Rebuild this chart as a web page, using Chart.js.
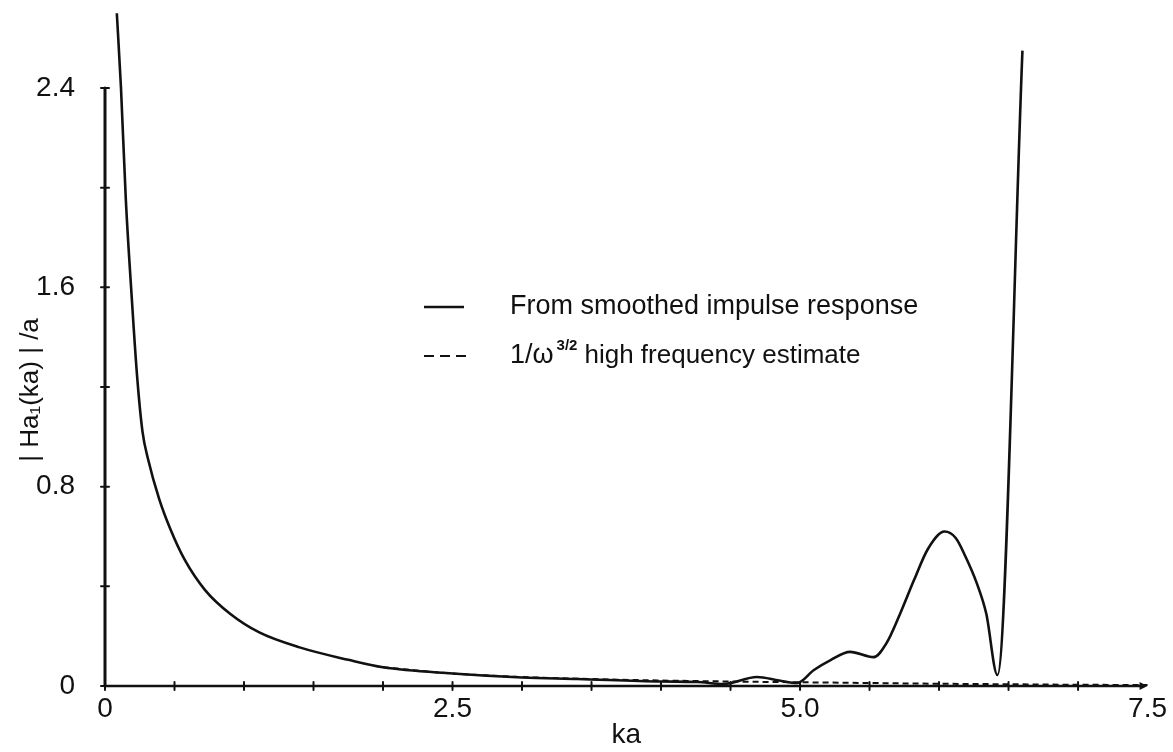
<!DOCTYPE html>
<html>
<head>
<meta charset="utf-8">
<title>|Ha1(ka)|/a</title>
<script src="https://cdn.jsdelivr.net/npm/chart.js@4.4.1/dist/chart.umd.min.js"></script>
<style>
  html, body { margin: 0; padding: 0; background: #fff; }
  #wrap { width: 1173px; height: 752px; }
</style>
</head>
<body>
<div id="wrap"><canvas id="haChart" width="1173" height="752"></canvas></div>
<script>
// |Ha1(ka)|/a from the smoothed impulse response
const kaSmoothed = [0.085, 0.115, 0.15, 0.19, 0.23, 0.27, 0.31, 0.39, 0.47, 0.57, 0.72, 0.90, 1.11, 1.40, 1.75,
    2.0, 2.5, 3.0, 3.4, 4.0, 4.26, 4.45, 4.69, 4.85, 4.98, 5.1, 5.22, 5.36, 5.53, 5.62, 5.72, 5.82, 5.92,
    6.04, 6.12, 6.19, 6.27, 6.34, 6.42, 6.60];
const haSmoothed = [2.70, 2.40, 1.95, 1.58, 1.25, 1.02, 0.91, 0.75, 0.63, 0.51, 0.385, 0.29, 0.215, 0.155, 0.105,
    0.075, 0.05, 0.034, 0.028, 0.018, 0.016, 0.008, 0.036, 0.022, 0.012, 0.064, 0.104, 0.137, 0.116, 0.17, 0.29, 0.425, 0.55,
    0.62, 0.594, 0.52, 0.415, 0.29, 0.044, 2.55];

// 1/w^(3/2) high frequency estimate
const kaEstimate = [2.0, 2.5, 3.0, 3.5, 4.0, 4.5, 5.0, 5.5, 6.0, 6.5, 7.0, 7.5];
const haEstimate = [0.075, 0.05, 0.036, 0.028, 0.022, 0.018, 0.015, 0.012, 0.009, 0.007, 0.005, 0.004];

// axis ticks (every tick gets a mark, only some get a label)
const xTicks = [0, 0.5, 1, 1.5, 2, 2.5, 3, 3.5, 4, 4.5, 5, 5.5, 6, 6.5, 7, 7.5];
const xTickLabels = { 0: '0', 2.5: '2.5', 5: '5.0', 7.5: '7.5' };
const yTicks = [0, 0.4, 0.8, 1.2, 1.6, 2.0, 2.4];
const yTickLabels = { 0: '0', 0.8: '0.8', 1.6: '1.6', 2.4: '2.4' };

const legendItems = ['From smoothed impulse response', 'high frequency estimate'];

const FONT = '"Liberation Sans", Arial, sans-serif';

function toPoints(xs, ys) {
    return xs.map((x, i) => ({ x: x, y: ys[i] }));
}

// axes drawn by hand: y axis stops at 2.4, x axis ends in an arrow, ticks are little crosses
const axisDecor = {
    id: 'axisDecor',
    beforeDatasetsDraw(chart) {
        const ctx = chart.ctx;
        const xs = chart.scales.x;
        const ys = chart.scales.y;
        const x0 = xs.getPixelForValue(0);
        const y0 = ys.getPixelForValue(0);
        const xEnd = xs.getPixelForValue(7.5);
        ctx.save();
        ctx.strokeStyle = '#111';
        ctx.fillStyle = '#111';
        ctx.lineCap = 'round';

        ctx.lineWidth = 3;
        ctx.beginPath();
        ctx.moveTo(x0, y0);
        ctx.lineTo(x0, ys.getPixelForValue(2.4));
        ctx.stroke();

        ctx.lineWidth = 2.5;
        ctx.beginPath();
        ctx.moveTo(x0, y0);
        ctx.lineTo(xEnd - 4, y0);
        ctx.stroke();
        ctx.beginPath();
        ctx.moveTo(xEnd, y0);
        ctx.lineTo(xEnd - 8, y0 - 4);
        ctx.lineTo(xEnd - 8, y0 + 4);
        ctx.closePath();
        ctx.fill();

        ctx.lineWidth = 2;
        yTicks.forEach(v => {
            const py = ys.getPixelForValue(v);
            ctx.beginPath();
            ctx.moveTo(x0 - 4, py);
            ctx.lineTo(x0 + 4, py);
            ctx.stroke();
        });
        xTicks.forEach(v => {
            if (v === 7.5) return;
            const px = xs.getPixelForValue(v);
            ctx.beginPath();
            ctx.moveTo(px, y0 - 4);
            ctx.lineTo(px, y0 + 4);
            ctx.stroke();
        });
        ctx.restore();
    },
    afterDraw(chart) {
        const ctx = chart.ctx;
        ctx.save();
        ctx.fillStyle = '#111';
        ctx.strokeStyle = '#111';

        // y axis title
        ctx.translate(31, 390);
        ctx.rotate(-Math.PI / 2);
        ctx.font = '26px ' + FONT;
        ctx.textAlign = 'center';
        ctx.textBaseline = 'middle';
        ctx.fillText('| Ha\u2081(ka) | /a', 0, 0);
        ctx.setTransform(1, 0, 0, 1, 0, 0);

        // legend
        const row1 = 307, row2 = 356, textX = 510;
        ctx.lineWidth = 2.5;
        ctx.beginPath();
        ctx.moveTo(424, row1);
        ctx.lineTo(464, row1);
        ctx.stroke();
        ctx.lineWidth = 2;
        ctx.setLineDash([10, 6]);
        ctx.beginPath();
        ctx.moveTo(424, row2);
        ctx.lineTo(472, row2);
        ctx.stroke();
        ctx.setLineDash([]);

        ctx.textAlign = 'left';
        ctx.textBaseline = 'middle';
        ctx.font = '27px ' + FONT;
        ctx.fillText(legendItems[0], textX, row1);
        let x = textX;
        ctx.fillText('1/\u03c9', x, row2);
        x += ctx.measureText('1/\u03c9').width + 3;
        ctx.font = 'bold 15px ' + FONT;
        ctx.fillText('3/2', x, row2 - 10);
        x += ctx.measureText('3/2').width + 7;
        ctx.font = '26px ' + FONT;
        ctx.fillText(legendItems[1], x, row2);
        ctx.restore();
    }
};

const ctx = document.getElementById('haChart').getContext('2d');

new Chart(ctx, {
    type: 'scatter',
    data: {
        datasets: [
            {
                label: legendItems[0],
                data: toPoints(kaSmoothed, haSmoothed),
                showLine: true,
                borderColor: '#111',
                borderWidth: 2.6,
                pointRadius: 0,
                cubicInterpolationMode: 'monotone',
                clip: false
            },
            {
                label: legendItems[1],
                data: toPoints(kaEstimate, haEstimate),
                showLine: true,
                borderColor: '#111',
                borderWidth: 2,
                borderDash: [6, 4],
                pointRadius: 0,
                cubicInterpolationMode: 'monotone',
                clip: false
            }
        ]
    },
    options: {
        responsive: false,
        animation: false,
        layout: { padding: { top: 88, right: 23, left: 0, bottom: 0 } },
        plugins: {
            legend: { display: false },
            tooltip: { enabled: false }
        },
        scales: {
            x: {
                type: 'linear',
                min: 0,
                max: 7.5,
                afterBuildTicks: scale => { scale.ticks = xTicks.map(v => ({ value: v })); },
                afterFit: scale => { scale.height = 66; },
                grid: { display: false, drawTicks: false },
                border: { display: false },
                ticks: {
                    autoSkip: false,
                    maxRotation: 0,
                    padding: 6,
                    color: '#111',
                    font: { family: FONT, size: 28 },
                    callback: v => xTickLabels[v] || ''
                },
                title: {
                    display: true,
                    text: 'ka',
                    color: '#111',
                    font: { family: FONT, size: 28 },
                    padding: { top: 0, bottom: 0 }
                }
            },
            y: {
                type: 'linear',
                min: 0,
                max: 2.4,
                afterBuildTicks: scale => { scale.ticks = yTicks.map(v => ({ value: v })); },
                afterFit: scale => { scale.width = 105; },
                grid: { display: false, drawTicks: false },
                border: { display: false },
                ticks: {
                    padding: 30,
                    color: '#111',
                    font: { family: FONT, size: 28 },
                    callback: v => yTickLabels[v] || ''
                }
            }
        }
    },
    plugins: [axisDecor]
});
</script>
</body>
</html>
